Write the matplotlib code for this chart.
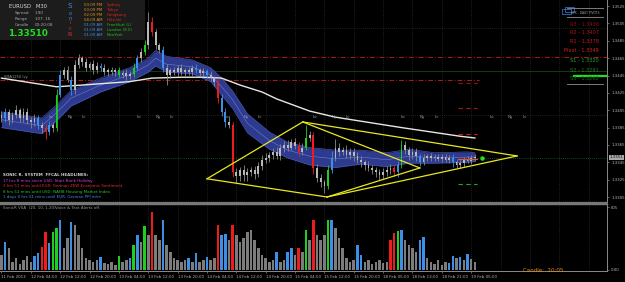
import matplotlib
matplotlib.use("Agg")
import matplotlib.pyplot as plt
from matplotlib.patches import Rectangle
import matplotlib.transforms as mtransforms
import numpy as np

BASE = 1.3300
PIP = 0.0001

# hourly candles (pips above 1.3300)
closes = [96, 103, 94, 99, 105, 96, 103, 94, 91, 96, 88, 85, 80, 88, 85, 123, 146, 151, 140, 128,
          157, 165, 161, 154, 158, 151, 156, 154, 149, 151, 149, 151, 146, 148, 144, 147, 154, 165, 172, 180,
          207, 195, 180, 174, 154, 146, 151, 149, 154, 149, 151, 149, 154, 151, 148, 150, 146, 142, 138, 119,
          103, 92, 88, 34, 29, 36, 30, 34, 36, 32, 41, 48, 50, 53, 57, 52, 62, 65, 62, 68,
          64, 57, 62, 73, 77, 38, 27, 22, 18, 36, 50, 62, 57, 59, 53, 57, 52, 48, 45, 42,
          39, 36, 34, 30, 34, 36, 39, 34, 42, 65, 59, 53, 57, 52, 45, 50, 52, 50, 51, 49,
          51, 48, 50, 45, 42, 44, 48, 47, 50, 51]
first_open = 100
wick_up = [4, 5, 3, 4, 6, 3, 5, 4, 3, 5, 4, 3, 4, 5, 3, 6, 5, 4, 5, 4,
           6, 5, 3, 4, 3, 5, 4, 3, 4, 3, 4, 3, 4, 3, 4, 3, 5, 4, 5, 6,
           11, 5, 4, 3, 5, 4, 3, 4, 3, 4, 3, 4, 3, 4, 3, 4, 3, 4, 3, 4,
           5, 4, 6, 4, 5, 4, 6, 5, 4, 5, 4, 5, 6, 4, 5, 6, 4, 5, 6, 4,
           5, 4, 5, 15, 4, 3, 5, 4, 3, 6, 8, 10, 5, 4, 6, 5, 4, 5, 4, 3,
           4, 3, 4, 3, 4, 5, 4, 3, 4, 6, 5, 4, 5, 4, 3, 4, 3, 4, 3, 4,
           3, 4, 3, 4, 3, 4, 3, 4, 3, 3]
wick_dn = [5, 4, 6, 4, 3, 5, 4, 5, 6, 4, 5, 6, 8, 4, 5, 4, 3, 4, 3, 5,
           4, 3, 5, 4, 3, 4, 3, 4, 3, 4, 3, 4, 3, 4, 5, 3, 4, 3, 4, 3,
           4, 5, 4, 3, 5, 12, 4, 3, 4, 3, 4, 3, 4, 3, 4, 3, 4, 3, 5, 6,
           5, 6, 4, 6, 8, 5, 6, 7, 5, 6, 4, 5, 4, 5, 4, 3, 4, 5, 4, 3,
           4, 5, 4, 3, 4, 6, 5, 6, 8, 4, 3, 4, 5, 4, 3, 4, 5, 4, 5, 6,
           4, 5, 6, 5, 4, 5, 4, 5, 6, 3, 4, 5, 4, 5, 4, 3, 4, 3, 4, 3,
           4, 3, 4, 5, 4, 3, 4, 3, 4, 3]
candle_marks = {1: 'b', 10: 'b', 12: 'r', 13: 'b', 15: 'G', 16: 'b', 19: 'b', 27: 'b', 32: 'G',
                36: 'G', 37: 'b', 39: 'G', 41: 'r', 44: 'b', 53: 'b', 56: 'b', 59: 'r', 60: 'b',
                61: 'b', 63: 'r', 81: 'r', 83: 'G', 85: 'r', 89: 'G', 90: 'b', 107: 'r', 108: 'b',
                109: 'G', 114: 'b', 123: 'b'}

volumes = [144, 270, 210, 77, 115, 58, 96, 134, 77, 134, 163, 220, 365, 260, 365, 400, 480, 210, 310, 460,
           430, 335, 210, 115, 96, 77, 96, 125, 67, 58, 77, 48, 134, 77, 96, 115, 240, 335, 270, 420,
           335, 560, 335, 290, 480, 240, 173, 115, 96, 77, 96, 115, 77, 163, 77, 96, 125, 96, 115, 430,
           335, 345, 290, 430, 335, 270, 310, 365, 385, 290, 210, 144, 115, 77, 96, 173, 77, 96, 173, 210,
           144, 210, 173, 385, 290, 480, 335, 290, 335, 480, 480, 400, 310, 210, 115, 77, 96, 240, 144, 77,
           96, 58, 77, 96, 67, 77, 290, 355, 375, 385, 290, 240, 210, 173, 290, 315, 115, 77, 58, 96,
           48, 77, 67, 134, 115, 125, 96, 154, 106, 77]
volume_marks = {1: 'b', 9: 'b', 10: 'b', 11: 'r', 12: 'r', 13: 'b', 14: 'G', 15: 'G', 16: 'b', 19: 'b',
                27: 'b', 32: 'G', 35: 'b', 36: 'G', 37: 'b', 39: 'G', 41: 'r', 44: 'b', 51: 'b', 53: 'b',
                56: 'b', 59: 'r', 60: 'b', 61: 'b', 63: 'r', 75: 'b', 78: 'b', 79: 'b', 81: 'r', 83: 'G',
                85: 'r', 89: 'G', 90: 'b', 97: 'b', 98: 'b', 106: 'r', 107: 'r', 108: 'G', 109: 'b',
                114: 'b', 115: 'b', 122: 'b', 123: 'b', 125: 'b', 127: 'b'}

# dragon band and long MA, sampled
band_idx = [0, 11, 15, 19, 27, 35, 40, 42, 45, 52, 57, 60, 63, 67, 73, 78, 84, 91, 98, 105, 111, 118, 127, 129]
band_mid = [94, 87, 102, 119, 134, 146, 157, 165, 158, 155, 146, 132, 117, 90, 70, 59, 52, 49, 51, 48, 52, 50, 51, 51]
band_half = [9, 9, 9, 9, 8, 8, 8, 9, 9, 8, 8, 10, 10, 11, 10, 9, 10, 10, 8, 8, 8, 6, 6, 5]
ma_idx = [0, 15, 22, 35, 41, 49, 55, 60, 65, 71, 75, 84, 91, 109, 125, 129]
ma_val = [142, 132, 134, 138, 142, 143, 143, 142, 134, 126, 118, 104, 97, 85, 75, 73]

# triangle trendlines
tri_idx = [56.0, 82.1, 88.7, 114.0, 140.5]
tri_val = [26, 91.5, 5, 38.5, 52.3]
tri_segs = [(0, 1), (0, 2), (1, 4), (1, 3), (2, 3), (2, 4)]

pivot_names = ["R3", "R2", "R1", "Pivot", "S1", "S2", "S3"]
pivot_values = [1.3436, 1.3407, 1.3378, 1.3349, 1.3320, 1.3291, 1.3262]
pivot_colors = ['#8e1212', '#b01616', '#cc1a1a', '#dd2222', '#20a820', '#1a8a1a', '#127012']

date_labels = ["11 Feb 2013", "12 Feb 04:00", "12 Feb 12:00", "12 Feb 20:00", "13 Feb 04:00",
               "13 Feb 12:00", "13 Feb 20:00", "14 Feb 04:00", "14 Feb 12:00", "14 Feb 20:00",
               "15 Feb 04:00", "15 Feb 12:00", "15 Feb 20:00", "18 Feb 05:00", "18 Feb 13:00",
               "18 Feb 21:00", "19 Feb 05:00"]
price_ticks = [1.3525, 1.3505, 1.3485, 1.3465, 1.3445, 1.3425, 1.3405, 1.3385, 1.3365, 1.3345, 1.3325, 1.3305]
last_price = 1.3351
london_open = [12.9, 36.9, 60.9, 84.9, 108.9, 132.9]

session_times = ["03:09 PM", "03:09 PM", "02:09 PM", "08:09 AM", "01:09 AM", "01:09 AM", "01:09 AM"]
session_cities = ["Sydney", "Tokyo", "Hongkong", "Helsinki", "Frankfurt (L)", "London (8.0)", "NewYork"]

headlines = ["17 hrs 8 mins since USD: Start Bank Holiday",
             "3 hrs 51 mins until EUR: German ZEW Economic Sentiment",
             "8 hrs 51 mins until USD: NAHB Housing Market Index",
             "1 days 0 hrs 51 mins until EUR: German PPI m/m"]
headline_colors = ['#d040d0', '#f02828', '#28c828', '#3c8fe8']

COL = {'w': '#b8b8b8', 'b': '#3d8fe6', 'G': '#1ed01e', 'r': '#f01c1c'}
WICK = {'w': '#8a8a8a', 'b': '#3d8fe6', 'G': '#1ed01e', 'r': '#f01c1c'}

W, H = 625, 282
fig = plt.figure(figsize=(W / 100, H / 100), dpi=100, facecolor='black')


def fx(x):
    return x / W


def fy(y):
    return 1 - y / H


ax = fig.add_axes([0, fy(203), fx(607), 203 / H], facecolor='black')
axv = fig.add_axes([0, fy(271), fx(607), 67 / H], facecolor='black', sharex=ax)

n = len(closes)
x = np.arange(n)
c = BASE + np.array(closes) * PIP
o = np.concatenate([[BASE + first_open * PIP], c[:-1]])
hi = np.maximum(o, c) + np.array(wick_up) * PIP
lo = np.minimum(o, c) - np.array(wick_dn) * PIP
codes = [candle_marks.get(i, 'w') for i in range(n)]

xmin, xmax = -0.4, 165.0
ax.set_xlim(xmin, xmax)
ax.set_ylim(1.32981, 1.35320)

# grid
for k in range(1, 21):
    ax.axvline(8 * k, color='#3a3a3a', lw=0.5, ls=(0, (1, 2)), zorder=0)
    axv.axvline(8 * k, color='#3a3a3a', lw=0.5, ls=(0, (1, 2)), zorder=0)
for lvl in [1.3500, 1.3400, 1.3300]:
    ax.axhline(lvl, color='#3a3a3a', lw=0.5, ls=(0, (1, 2)), zorder=0)
ax.axhline(1.3450, color='#173817', lw=0.7, zorder=0)
ax.axhline(1.3350, color='#1f5f1f', lw=0.6, ls=(0, (1, 1.5)), zorder=0)
ax.axhline(1.3466, color='#b01818', lw=0.7, ls=(0, (5, 2, 1, 2)), zorder=1)
ax.plot([xmin, n], [1.3440, 1.3440], color='#b01818', lw=0.7, ls=(0, (5, 2, 1, 2)), zorder=1)

# dragon band
bi = np.array(band_idx)
bm = BASE + np.array(band_mid) * PIP
bh = np.array(band_half) * PIP
ax.fill_between(bi, bm - bh, bm + bh, color='#2d3a8e', lw=0, zorder=2)
ax.plot(bi, bm + bh, color='#4454ae', lw=0.5, zorder=2)
ax.plot(bi, bm - bh, color='#4454ae', lw=0.5, zorder=2)
ax.plot(bi, bm, color='#6e7ed0', lw=0.4, zorder=2)

# long MA
ax.plot(ma_idx, BASE + np.array(ma_val) * PIP, color='#e8e8e0', lw=1.0, zorder=3)

# candles
ax.vlines(x, lo, hi, colors=[WICK[k] for k in codes], lw=0.6, zorder=4)
body = np.maximum(np.abs(c - o), 0.5 * PIP)
ax.bar(x, body, bottom=np.minimum(o, c), width=0.5, color=[COL[k] for k in codes], lw=0, zorder=4)

# triangles
for a, b in tri_segs:
    ax.plot([tri_idx[a], tri_idx[b]], [BASE + tri_val[a] * PIP, BASE + tri_val[b] * PIP],
            color='#e8e820', lw=0.9, zorder=5)

# pivot markers at the current day
for name, val, col in zip(pivot_names, pivot_values, pivot_colors):
    if name == "Pivot":
        ax.plot([124.5, 129.6], [val, val], color='#e05a20', lw=0.8, zorder=5)
    else:
        ax.plot([124.5, 129.6], [val, val], color=col, lw=0.8, ls=(0, (4, 3)), zorder=5)
ax.plot([131], [1.3350], 'o', color='#20e020', ms=2.2, zorder=6)
ax.plot([156, 165], [1.34445, 1.34445], color='#20e020', lw=1.6, zorder=6)

# session labels
for d in london_open:
    for off, s in [(0, "Lo"), (5, "Ny"), (9, "Lc")]:
        ax.text(d + off, 1.3532 - 117 / 8682, s, color='#a0a0a0', fontsize=2.9, va='center', zorder=3)

# right price axis
ax.yaxis.tick_right()
ax.set_yticks(price_ticks)
ax.set_yticklabels([f"{p:.4f}" for p in price_ticks])
ax.tick_params(axis='y', colors='#888888', labelcolor='#b8b8b8', labelsize=2.8, length=1.5, pad=1.5, width=0.5)
ax.tick_params(axis='x', bottom=False, labelbottom=False)
tr = mtransforms.blended_transform_factory(ax.transAxes, ax.transData)
ax.text(1.004, last_price, "1.3351", transform=tr, fontsize=2.8, color='#101010', va='center',
        bbox=dict(boxstyle='square,pad=0.15', fc='#a8a8a8', ec='none'), zorder=7, clip_on=False)
for s in ['top', 'left']:
    ax.spines[s].set_visible(False)
ax.spines['right'].set_color('#8a8a8a')
ax.spines['right'].set_linewidth(0.7)
ax.spines['bottom'].set_color('#7a7a7a')
ax.spines['bottom'].set_linewidth(1.4)

# volume
vcodes = [volume_marks.get(i, 'w') for i in range(n)]
vcol = {'w': '#7c7c7c', 'b': '#3d8fe6', 'G': '#1ed01e', 'r': '#f01c1c'}
axv.bar(x, volumes, width=0.7, color=[vcol[k] for k in vcodes], lw=0, zorder=2)
axv.set_ylim(-10, 635)
axv.yaxis.tick_right()
axv.set_yticks([605, 0])
axv.set_yticklabels(["605", "0.00"])
axv.tick_params(axis='y', colors='#888888', labelcolor='#b8b8b8', labelsize=2.8, length=1.5, pad=1.5, width=0.5)
axv.set_xticks([8 * k for k in range(len(date_labels))])
axv.set_xticklabels(date_labels, ha='left')
axv.tick_params(axis='x', colors='#888888', labelcolor='#b0b0b0', labelsize=2.9, length=1.5, pad=1.5, width=0.5)
axv.spines['left'].set_visible(False)
for s in ['right', 'bottom']:
    axv.spines[s].set_color('#8a8a8a')
    axv.spines[s].set_linewidth(0.7)
axv.spines['top'].set_color('#7a7a7a')
axv.spines['top'].set_linewidth(1.0)

fig.text(fx(3), fy(208), "SonicR VSA  (20, 10, 1.20)", color='#9a9a9a', fontsize=2.9, va='center')
fig.text(fx(55), fy(208), "Voice & Text Alerts off.", color='#9a9a9a', fontsize=2.9, va='center')
fig.text(fx(523), fy(270), "Candle:  20:05", color='#e08a10', fontsize=4.0, va='center')

# info panel
fig.add_artist(Rectangle((0, fy(40)), fx(145), 40 / H, transform=fig.transFigure,
                         fc='#1c1c1c', ec='none', zorder=8))
fig.text(fx(9), fy(6), "EURUSD   M30", color='#d8d8d8', fontsize=3.8, va='center', zorder=9)
for yy, lab, val in [(13, "Spread", "1.90"), (19, "Range", "107. 16"), (25, "Candle", "00:20:08")]:
    fig.text(fx(15), fy(yy), lab, color='#a8a8a8', fontsize=3.0, va='center', zorder=9)
    fig.text(fx(35), fy(yy), val, color='#a8a8a8', fontsize=3.0, va='center', zorder=9)
fig.text(fx(8), fy(34), "1.33510", color='#22dd22', fontsize=6.3, weight='bold', va='center', zorder=9)
for yy, ch, col, fs in [(6.5, "S", '#3c8fe8', 5.2), (13.5, "o", '#3c8fe8', 3.6), (18.5, "n", '#3c8fe8', 3.6),
                        (23, "i", '#e03030', 3.6), (28.5, "c", '#e03030', 3.6), (35, "R", '#e03030', 4.6)]:
    fig.text(fx(70), fy(yy), ch, color=col, fontsize=fs, ha='center', va='center', zorder=9)
for i, (t, city) in enumerate(zip(session_times, session_cities)):
    yy = 5 + 5 * i
    tc = '#e09020' if i < 4 else '#3c8fe8'
    cc = '#e02020' if i < 4 else '#20c020'
    fig.text(fx(84), fy(yy), t, color=tc, fontsize=2.8, va='center', zorder=9)
    fig.text(fx(107), fy(yy), city, color=cc, fontsize=2.8, va='center', zorder=9)

fig.text(fx(4), fy(77), "SMA1250 Ivy", color='#9a9a9a', fontsize=2.6, va='center', zorder=9)

# headlines
fig.text(fx(3), fy(175), "SONIC R. SYSTEM  FFCAL HEADLINES:", color='#d0d0d0', fontsize=2.9,
         weight='bold', va='center', zorder=9)
for i, (h, col) in enumerate(zip(headlines, headline_colors)):
    fig.text(fx(3), fy(181 + 5.3 * i), h, color=col, fontsize=2.9, va='center', zorder=9)

# daily pivots panel
fig.add_artist(Rectangle((fx(565), fy(12)), fx(9), 5 / H, transform=fig.transFigure,
                         fc='none', ec='#3070c0', lw=0.6, zorder=9))
fig.add_artist(Rectangle((fx(562), fy(14)), fx(9), 5 / H, transform=fig.transFigure,
                         fc='none', ec='#3070c0', lw=0.6, zorder=9))
for yy in [8, 17, 84]:
    fig.add_artist(plt.Line2D([fx(567), fx(603)], [fy(yy), fy(yy)], transform=fig.transFigure,
                              color='#909090', lw=0.6, zorder=9))
fig.text(fx(585), fy(12.5), "SFX - DAILY PIVOTS", color='#a0a0a0', fontsize=2.2, ha='center', va='center', zorder=9)
for i, (name, val, col) in enumerate(zip(pivot_names, pivot_values, pivot_colors)):
    yy = [24, 32.5, 41.5, 51, 61, 70, 78][i]
    fig.text(fx(599), fy(yy), f"{name} - {val:.4f}", color=col, fontsize=3.6, ha='right', va='center', zorder=9)

fig.savefig("out.png", dpi=100, facecolor='black')
